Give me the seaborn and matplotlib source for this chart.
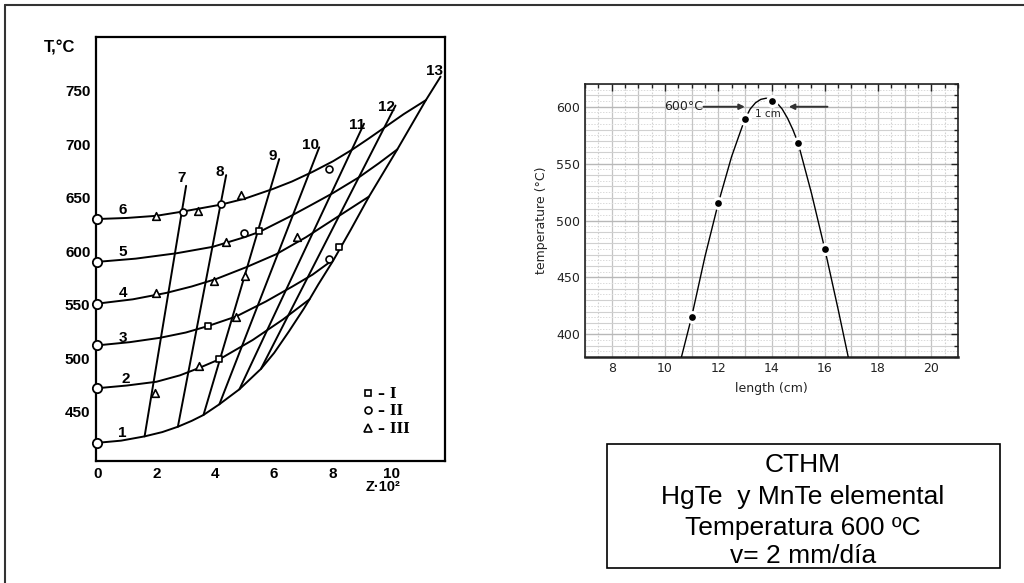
import numpy as np
import seaborn as sns
import matplotlib.pyplot as plt
from matplotlib.patches import Rectangle
from matplotlib.lines import Line2D
from matplotlib.ticker import MultipleLocator

# ---------------- left panel: nomogram T vs Z ----------------
# curve 1 / right-hand envelope (runs on into line 13)
Z_ENV = [0, 0.8, 1.6, 2.2, 2.73, 3.2, 3.6, 4.14, 4.82, 5.55, 6.0, 6.5, 7.0, 7.2, 7.5, 8.0,
         8.6, 9.22, 10.18, 11.15, 11.65]
T_ENV = [421, 423, 427, 431, 436, 441.5, 447, 457, 471, 490, 505, 525, 546, 555, 569, 591,
         620, 651, 695, 741, 763]

# curves 2..6
Z_ISO2 = [0, 1.0, 2.0, 2.8, 3.46, 4.14, 5.27, 6.29, 7.2]
T_ISO2 = [472, 474.5, 478, 484, 491, 499, 517, 536, 555]
Z_ISO3 = [0, 1.1, 2.11, 3.0, 3.75, 4.71, 5.72, 6.62, 7.3, 7.95]
T_ISO3 = [512, 515, 519, 524, 530, 539, 553, 567, 578, 591]
Z_ISO4 = [0, 1.2, 2.34, 3.2, 4.03, 5.05, 6.06, 7.08, 7.98, 8.6, 9.22]
T_ISO4 = [551, 555, 561, 567, 574, 585, 597, 613, 629, 640, 651]
Z_ISO5 = [0, 1.3, 2.68, 3.91, 4.99, 5.5, 6.51, 7.25, 7.98, 8.88, 9.55, 10.18]
T_ISO5 = [590, 593, 598, 604, 613, 618, 632, 643, 654, 669, 682, 695]
Z_ISO6 = [0, 1.0, 2.0, 2.9, 4.2, 5.0, 5.95, 6.6, 7.3, 8.0, 8.66, 9.2, 9.67, 10.4, 11.15]
T_ISO6 = [630, 631, 633, 637, 643.5, 649, 658, 665, 674, 684, 695, 705, 714, 728, 741]

# straight lines 7..12 (start on curve 1, end at the label)
LINE_Z0 = [1.6, 2.73, 3.6, 4.14, 4.82, 5.55]
LINE_T0 = [427, 436, 447, 457, 471, 490]
LINE_Z1 = [3.01, 4.37, 6.17, 7.53, 9.05, 10.12]
LINE_T1 = [661, 671, 686, 697, 719, 736]

# curve numbers
LBL_TXT = ['1', '2', '3', '4', '5', '6', '7', '8', '9', '10', '11', '12', '13']
LBL_Z = [0.85, 0.95, 0.85, 0.85, 0.85, 0.85, 2.85, 4.15, 5.95, 7.25, 8.8, 9.8, 11.45]
LBL_T = [430, 481, 519, 561, 599, 638, 668, 674, 689, 699, 718, 735, 768]

# experimental points: I (squares), II (circles), III (triangles)
START_T = [421, 472, 512, 551, 590, 630]
CIRC_Z = [2.9, 4.2, 4.97, 7.87, 7.87]
CIRC_T = [637, 644, 616.5, 677, 593]
TRI_Z = [2.0, 3.41, 4.88, 4.37, 6.76, 2.0, 3.97, 5.02, 4.71, 3.44, 1.96]
TRI_T = [633, 637.5, 652.8, 608.7, 612.8, 560.6, 572, 576.7, 538.8, 492.9, 467.4]
SQ_Z = [5.5, 3.75, 4.12, 8.2]
SQ_T = [619, 530, 499, 604]

# ---------------- right panel: temperature profile ----------------
LEN_PTS = [11, 12, 13, 14, 15, 16]
TEMP_PTS = [415, 515, 589, 605, 568, 475]
CURVE_LEN = [10.62, 11.0, 11.5, 12.0, 12.5, 12.8, 13.0, 13.2, 13.4, 13.6, 13.8, 14.0, 14.2,
             14.4, 14.6, 14.8, 15.0, 15.5, 16.0, 16.5, 16.88]
CURVE_TEMP = [380, 415, 468, 515, 556, 576, 589, 598, 603.5, 606.5, 607.5, 606.5, 603.5,
              598, 590, 580, 568, 524, 475, 422, 380]

BOX_LINES = ['CTHM', 'HgTe  y MnTe elemental', 'Temperatura 600 ºC', 'v= 2 mm/día']

sns.set_style('white')
plt.rcParams['font.family'] = ['DejaVu Sans']
SCAN = ['Liberation Sans Narrow', 'Liberation Sans', 'DejaVu Sans']

W, H = 1024, 583
fig = plt.figure(figsize=(W / 100, H / 100), dpi=100)

# ---- left axes ----
axL = fig.add_axes([96 / W, 1 - 461 / H, 349 / W, 424 / H])
for z, t in [(Z_ENV, T_ENV), (Z_ISO2, T_ISO2), (Z_ISO3, T_ISO3),
             (Z_ISO4, T_ISO4), (Z_ISO5, T_ISO5), (Z_ISO6, T_ISO6)]:
    sns.lineplot(x=z, y=t, ax=axL, color='black', lw=1.4, sort=False, estimator=None)
for z0, t0, z1, t1 in zip(LINE_Z0, LINE_T0, LINE_Z1, LINE_T1):
    sns.lineplot(x=[z0, z1], y=[t0, t1], ax=axL, color='black', lw=1.4, sort=False, estimator=None)

sns.scatterplot(x=[0] * len(START_T), y=START_T, ax=axL, marker='o', s=45,
                color='white', edgecolor='black', linewidth=1.3, zorder=5, clip_on=False)
sns.scatterplot(x=CIRC_Z, y=CIRC_T, ax=axL, marker='o', s=25,
                color='white', edgecolor='black', linewidth=1.2, zorder=5)
sns.scatterplot(x=TRI_Z, y=TRI_T, ax=axL, marker='^', s=30,
                color='white', edgecolor='black', linewidth=1.2, zorder=5)
sns.scatterplot(x=SQ_Z, y=SQ_T, ax=axL, marker='s', s=22,
                color='white', edgecolor='black', linewidth=1.2, zorder=5)

for txt, z, t in zip(LBL_TXT, LBL_Z, LBL_T):
    axL.text(z, t, txt, ha='center', va='center', fontsize=11, color='black',
             fontweight='bold', family=SCAN)

axL.set_xlim(-0.05, 11.8)
axL.set_ylim(404, 800)
axL.set_xticks(range(0, 11, 2))
axL.set_yticks(range(450, 751, 50))
axL.tick_params(direction='out', length=3, width=1.3, pad=1, labelsize=11,
                colors='black')
for lab in axL.get_xticklabels() + axL.get_yticklabels():
    lab.set_family(SCAN)
    lab.set_fontweight('bold')
for sp in axL.spines.values():
    sp.set_linewidth(1.6)
    sp.set_color('black')
axL.set_xlabel('')
axL.set_ylabel('')
axL.text(-0.105, 0.975, 'T,°C', transform=axL.transAxes, ha='center', va='center',
         fontsize=12, fontweight='bold', family=SCAN, color='black')
axL.text(0.822, -0.062, 'Z·10²', transform=axL.transAxes, ha='center', va='center',
         fontsize=10.5, fontweight='bold', family=SCAN, color='black')

leg_handles = [
    Line2D([], [], ls='none', marker='s', ms=5, mfc='white', mec='black', mew=1.2, label='– I'),
    Line2D([], [], ls='none', marker='o', ms=5, mfc='white', mec='black', mew=1.2, label='– II'),
    Line2D([], [], ls='none', marker='^', ms=6, mfc='white', mec='black', mew=1.2, label='– III'),
]
axL.legend(handles=leg_handles, loc='lower right', bbox_to_anchor=(0.935, 0.03),
           frameon=False, handlelength=0.8, handletextpad=0.3, labelspacing=0.25,
           labelcolor='black',
           prop={'family': 'DejaVu Serif', 'size': 10, 'weight': 'bold'})

# ---- right axes ----
axR = fig.add_axes([585 / W, 1 - 357 / H, 373 / W, 273 / H])
axR.set_xlim(7, 21)
axR.set_ylim(380, 620)
for xv in np.arange(7, 21.01, 1):
    axR.axvline(xv, color='#c4c4c4', lw=0.9, zorder=0)
for xv in np.arange(7.5, 21, 1):
    axR.axvline(xv, color='#d2d2d2', lw=0.8, ls=(0, (1.5, 1.5)), zorder=0)
for yv in np.arange(380, 621, 10):
    axR.axhline(yv, color='#b8b8b8' if yv % 50 == 0 else '#d0d0d0',
                lw=1.0 if yv % 50 == 0 else 0.8, zorder=0)
for yv in np.arange(385, 620, 10):
    axR.axhline(yv, color='#dadada', lw=0.7, ls=(0, (1.5, 1.5)), zorder=0)

sns.lineplot(x=CURVE_LEN, y=CURVE_TEMP, ax=axR, color='black', lw=1.0,
             sort=False, estimator=None, zorder=3)
sns.scatterplot(x=LEN_PTS, y=TEMP_PTS, ax=axR, color='black', s=50,
                edgecolor='white', linewidth=2.2, zorder=5)

axR.set_xticks(range(8, 21, 2))
axR.set_yticks(range(400, 601, 50))
axR.xaxis.set_minor_locator(MultipleLocator(0.5))
axR.yaxis.set_minor_locator(MultipleLocator(10))
axR.tick_params(which='both', direction='in', top=True, right=True, width=1.0,
                labelsize=9, colors='#222222')
axR.tick_params(which='major', length=5)
axR.tick_params(which='minor', length=3)
for sp in axR.spines.values():
    sp.set_linewidth(1.2)
    sp.set_color('#222222')
axR.spines['bottom'].set_linewidth(1.8)
axR.set_xlabel('length (cm)', fontsize=9, labelpad=5, color='#222222')
axR.set_ylabel('temperature (°C)', fontsize=9, labelpad=6, color='#222222')

axR.text(11.42, 600, '600°C', ha='right', va='center', fontsize=9, color='#222222')
axR.annotate('', xy=(13.0, 600), xytext=(11.45, 600),
             arrowprops=dict(arrowstyle='-|>', color='#333333', lw=1.4, mutation_scale=8,
                             shrinkA=0, shrinkB=0))
axR.annotate('', xy=(14.65, 600), xytext=(16.1, 600),
             arrowprops=dict(arrowstyle='-|>', color='#333333', lw=1.4, mutation_scale=8,
                             shrinkA=0, shrinkB=0))
axR.text(13.85, 594, '1 cm', ha='center', va='center', fontsize=7.5, color='#222222')

# ---- text box ----
fig.patches.append(Rectangle((607 / W, 1 - 568 / H), 393 / W, 124 / H, transform=fig.transFigure,
                             fill=False, ec='black', lw=1.2))
for txt, yp in zip(BOX_LINES, [465, 497, 528, 556]):
    fig.text(803 / W, 1 - yp / H, txt, ha='center', va='center', fontsize=19, color='black',
             family=['Liberation Sans', 'DejaVu Sans'])

# outer frame (top and left edges)
fig.add_artist(Line2D([5 / W, 1], [1 - 5 / H, 1 - 5 / H], transform=fig.transFigure,
                      color='#333333', lw=1.5))
fig.add_artist(Line2D([5 / W, 5 / W], [0, 1 - 5 / H], transform=fig.transFigure,
                      color='#333333', lw=1.5))

fig.savefig('out.png', dpi=100)
